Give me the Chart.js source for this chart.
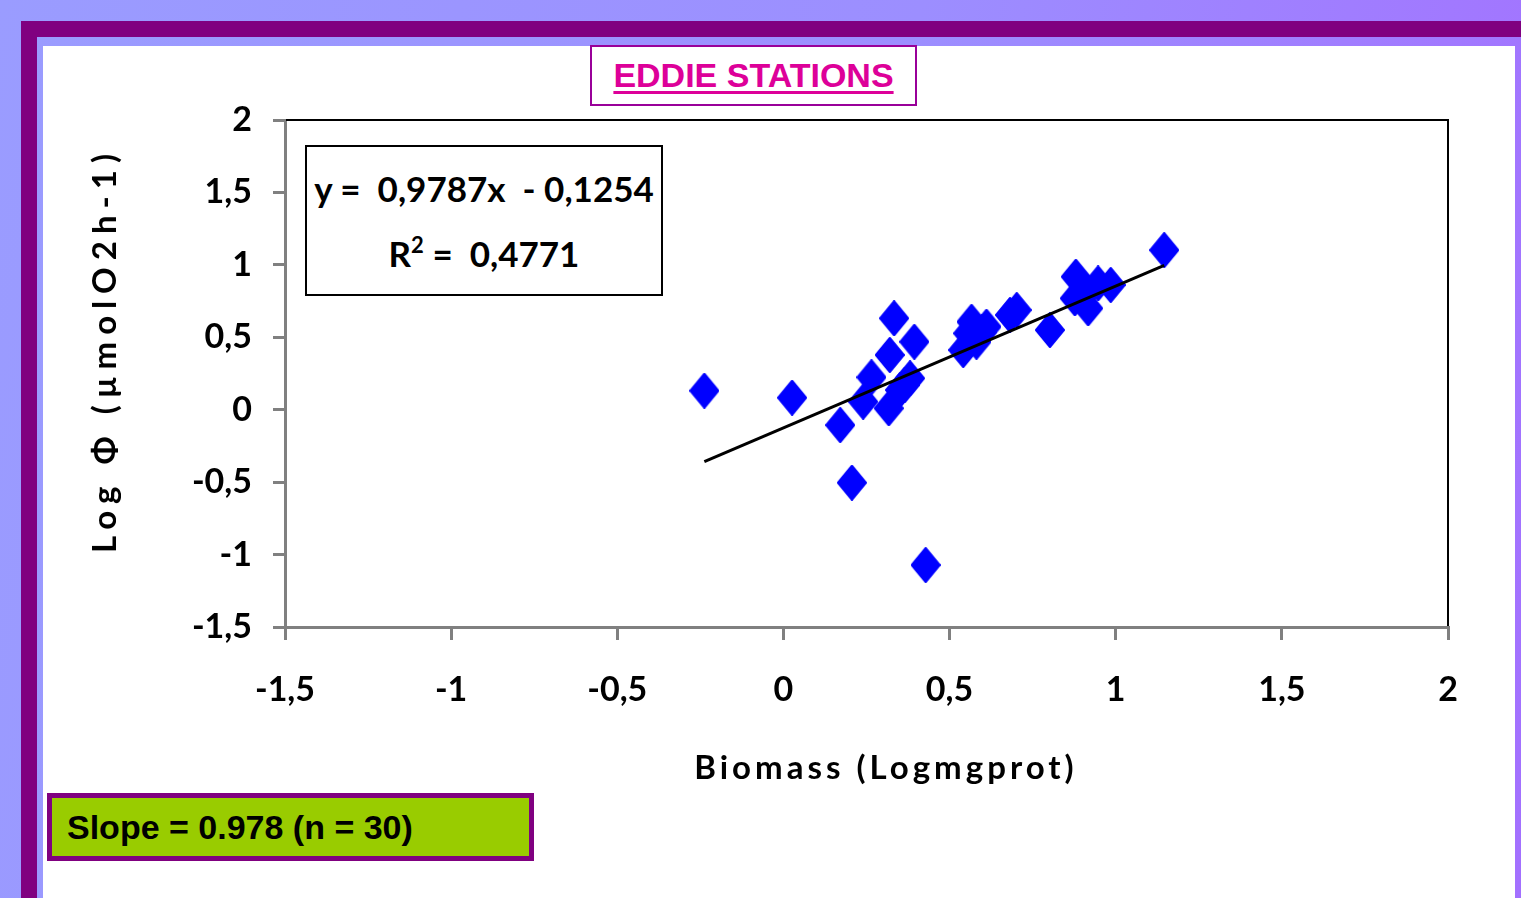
<!DOCTYPE html>
<html>
<head>
<meta charset="utf-8">
<title>EDDIE STATIONS</title>
<script src="https://cdn.jsdelivr.net/npm/chart.js@4/dist/chart.umd.min.js"></script>
<style>
  html, body { margin: 0; padding: 0; width: 1521px; height: 898px; overflow: hidden; }
  body {
    position: relative;
    background: linear-gradient(100deg, #9a9cff 0%, #9c8eff 55%, #a370ff 100%);
    font-family: Lato, "Liberation Sans", sans-serif;
  }
  .frame {
    position: absolute; left: 21px; top: 21px; right: 0; bottom: 0;
    border-top: 16px solid #800080; border-left: 16px solid #800080;
  }
  .sheet { position: absolute; left: 43px; top: 46px; width: 1472px; bottom: 0; background: #fff; }
  #chart { position: absolute; left: 0; top: 0; }
  .title-box {
    position: absolute; left: 590px; top: 45px; width: 323px; height: 57px;
    border: 2px solid #990099; background: #fff;
    display: flex; align-items: center; justify-content: center;
    font-family: "Liberation Sans", Arial, sans-serif; font-weight: bold; font-size: 34px;
    color: #dd0099; text-decoration: underline; text-decoration-thickness: 3px; text-underline-offset: 4px;
  }
  .eq-box {
    position: absolute; left: 305px; top: 145px; width: 354px; height: 147px;
    border: 2px solid #000; background: #fff; text-align: center;
    font-family: Lato, sans-serif; font-weight: bold; font-size: 35px; color: #000;
  }
  .eq-box .l1 { position: absolute; left: 0; right: 0; top: 20px; white-space: pre; }
  .eq-box .l2 { position: absolute; left: 0; right: 0; top: 85px; white-space: pre; }
  .eq-box sup { font-size: 22px; vertical-align: 14px; line-height: 0; }
  .slope-box {
    position: absolute; left: 47px; top: 793px; width: 462px; height: 58px;
    border: 5px solid #800080; background: #99cc00;
    font-family: "Liberation Sans", Arial, sans-serif; font-weight: bold; font-size: 34px; color: #000;
    line-height: 58px; padding-left: 15px; box-sizing: content-box;
  }
  .axis-title {
    position: absolute; white-space: nowrap; font-family: Lato, "DejaVu Sans", sans-serif;
    font-weight: bold; color: #000;
  }
  .x-title { left: 886px; top: 766px; transform: translate(-50%, -50%); font-size: 33px; letter-spacing: 4px; }
  .y-title { left: 103px; top: 350px; transform: translate(-50%, -50%) rotate(-90deg); font-size: 33px; letter-spacing: 7px; }
</style>
</head>
<body>
<div class="frame"></div>
<div class="sheet"></div>
<canvas id="chart" width="1521" height="898"></canvas>
<div class="title-box">EDDIE STATIONS</div>
<div class="eq-box"><div class="l1" id="eqLine"></div><div class="l2" id="r2Line"></div></div>
<div class="slope-box" id="slopeText"></div>
<div class="axis-title x-title">Biomass (Logmgprot)</div>
<div class="axis-title y-title">Log Φ (µmolO2h-1)</div>
<script>
// Station measurements: biomass (log mg prot) and respiration rate (log µmol O2 h-1)
const biomass = [
  -0.238, 0.026, 0.171, 0.206, 0.428,
   0.333, 0.394, 0.320, 0.265, 0.240,
   0.317, 0.351, 0.381, 0.365, 1.146,
   0.880, 0.947, 0.985, 0.877, 0.917,
   0.912, 0.802, 0.702, 0.682, 0.566,
   0.611, 0.541, 0.581, 0.556, 0.597
];
const logPhi = [
   0.131, 0.083, -0.106, -0.504, -1.072,
   0.631, 0.469, 0.378, 0.224, 0.055,
   0.010, 0.136, 0.217, 0.170, 1.102,
   0.918, 0.872, 0.861, 0.769, 0.700,
   0.814, 0.550, 0.688, 0.654, 0.607,
   0.573, 0.412, 0.469, 0.527, 0.535
];

// Linear fit reported for these stations
const fitSlope = 0.9787;
const fitIntercept = -0.1254;
const fitR2 = 0.4771;
const slopeRounded = 0.978;

// Axis ticks
const xTickValues = [-1.5, -1, -0.5, 0, 0.5, 1, 1.5, 2];
const xTickLabels = ['-1,5', '-1', '-0,5', '0', '0,5', '1', '1,5', '2'];
const yTickValues = [-1.5, -1, -0.5, 0, 0.5, 1, 1.5, 2];
const yTickLabels = ['-1,5', '-1', '-0,5', '0', '0,5', '1', '1,5', '2'];

const comma = v => String(v).replace('.', ',');
document.getElementById('eqLine').textContent =
  'y =  ' + comma(fitSlope) + 'x  - ' + comma(Math.abs(fitIntercept));
document.getElementById('r2Line').innerHTML = 'R<sup>2</sup> =  ' + comma(fitR2);
document.getElementById('slopeText').textContent =
  'Slope = ' + slopeRounded + ' (n = ' + biomass.length + ')';

// Blue diamond marker, a little taller than wide
function diamondMarker(w, h, color) {
  const c = document.createElement('canvas');
  c.width = w; c.height = h;
  const g = c.getContext('2d');
  g.fillStyle = color; g.strokeStyle = color; g.lineWidth = 2; g.lineJoin = 'round';
  g.beginPath();
  g.moveTo(w / 2, 1); g.lineTo(w - 1, h / 2); g.lineTo(w / 2, h - 1); g.lineTo(1, h / 2);
  g.closePath(); g.fill(); g.stroke();
  return c;
}

const points = biomass.map((x, i) => ({ x, y: logPhi[i] }));
const xMin = Math.min(...biomass), xMax = Math.max(...biomass);
const fitLine = [xMin, xMax].map(x => ({ x, y: fitSlope * x + fitIntercept }));

// Black top and right edges of the plot frame
const plotEdges = {
  id: 'plotEdges',
  afterDraw(chart) {
    const { ctx, chartArea: a } = chart;
    ctx.save();
    ctx.strokeStyle = '#000'; ctx.lineWidth = 2;
    ctx.beginPath();
    ctx.moveTo(a.left + 1, a.top); ctx.lineTo(a.right, a.top); ctx.lineTo(a.right, a.bottom - 1);
    ctx.stroke();
    ctx.restore();
  }
};

const tickFont = { family: 'Lato', weight: 'bold', size: 34 };

function build() {
  new Chart(document.getElementById('chart'), {
    type: 'scatter',
    data: {
      datasets: [
        {
          label: 'Trend',
          data: fitLine,
          showLine: true,
          borderColor: '#000',
          borderWidth: 3,
          pointRadius: 0,
          order: 0
        },
        {
          label: 'Stations',
          data: points,
          pointStyle: diamondMarker(30, 36, '#0000ff'),
          pointRadius: 16,
          backgroundColor: '#0000ff',
          borderColor: '#0000ff',
          order: 1
        }
      ]
    },
    options: {
      responsive: false,
      animation: false,
      devicePixelRatio: 1,
      layout: { padding: { left: 0, top: 120, right: 73, bottom: 0 } },
      plugins: { legend: { display: false }, tooltip: { enabled: false }, title: { display: false } },
      scales: {
        x: {
          type: 'linear', min: -1.5, max: 2,
          afterBuildTicks: s => { s.ticks = xTickValues.map(value => ({ value })); },
          afterFit: s => { s.height = 271; },
          grid: { display: true, drawOnChartArea: false, drawTicks: true, tickLength: 13, color: '#808080', lineWidth: 3 },
          border: { display: true, color: '#808080', width: 3 },
          ticks: { padding: 30, color: '#000', font: tickFont, maxRotation: 0, autoSkip: false,
                   callback: (v, i) => xTickLabels[i] }
        },
        y: {
          type: 'linear', min: -1.5, max: 2,
          afterBuildTicks: s => { s.ticks = yTickValues.map(value => ({ value })); },
          afterFit: s => { s.width = 285; },
          grid: { display: true, drawOnChartArea: false, drawTicks: true, tickLength: 12, color: '#808080', lineWidth: 3 },
          border: { display: true, color: '#808080', width: 3 },
          ticks: { padding: 21, color: '#000', font: tickFont, autoSkip: false,
                   callback: (v, i) => yTickLabels[i] }
        }
      }
    },
    plugins: [plotEdges]
  });
}

const fontReady = document.fonts && document.fonts.load
  ? document.fonts.load('bold 34px Lato').catch(() => {})
  : Promise.resolve();
fontReady.then(build, build);
</script>
</body>
</html>
